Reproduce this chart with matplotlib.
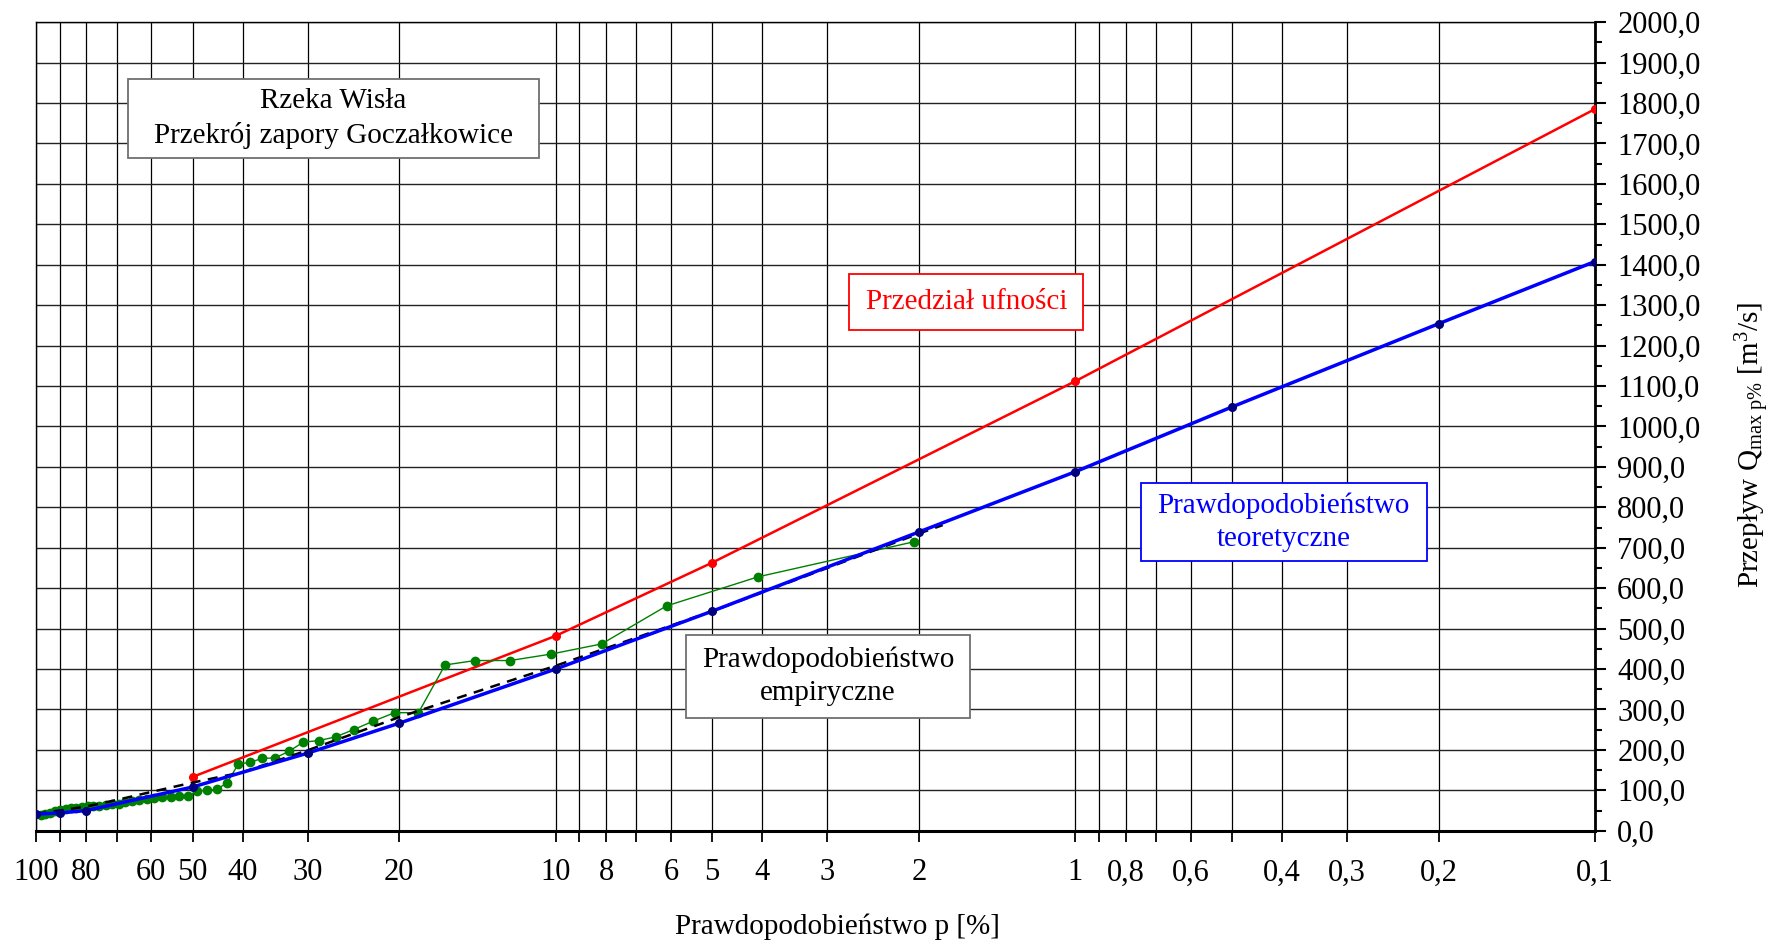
import matplotlib
matplotlib.use('Agg')
import matplotlib.pyplot as plt
from matplotlib.patches import Rectangle
from matplotlib.ticker import FixedLocator, NullFormatter

plt.rcParams['font.family'] = ['Liberation Serif', 'DejaVu Serif']
plt.rcParams['mathtext.fontset'] = 'custom'
plt.rcParams['mathtext.rm'] = 'Liberation Serif'
plt.rcParams['mathtext.it'] = 'Liberation Serif:italic'

# --- data ---
# empirical probability (green)
emp_p = [2.04, 4.08, 6.12, 8.16, 10.2, 12.24, 14.29, 16.33, 18.37, 20.41,
         22.45, 24.49, 26.53, 28.57, 30.61, 32.65, 34.69, 36.73, 38.78, 40.82,
         42.86, 44.9, 46.94, 48.98, 51.02, 53.06, 55.1, 57.14, 59.18, 61.22,
         63.27, 65.31, 67.35, 69.39, 71.43, 73.47, 75.51, 77.55, 79.59, 81.63,
         83.67, 85.71, 87.76, 89.8, 91.84, 93.88, 95.92, 97.96]
emp_q = [715, 628, 556, 462, 437, 421, 421, 410, 292, 292,
         271, 250, 232, 223, 219, 196, 180, 179, 169, 165,
         119, 102, 100, 98, 86, 85, 84, 83, 81, 79,
         77, 74, 71, 67, 65, 63, 62, 61, 60, 59,
         57, 56, 54, 52, 50, 45, 41, 38]

# theoretical probability (blue)
teo_p = [99.9, 90, 80, 50, 30, 20, 10, 5, 2, 1, 0.5, 0.2, 0.1]
teo_q = [41, 44, 50, 108, 192, 266, 400, 543, 739, 888, 1048, 1254, 1408]

# confidence interval (red)
ci_p = [50, 10, 5, 1, 0.1]
ci_q = [133, 482, 663, 1112, 1785]

# trend of empirical points (black dashed)
trend_p = [99.9, 90, 80, 70, 60, 50, 40, 30, 20, 10, 5, 3, 2, 1.8]
trend_q = [42, 50, 60, 76, 96, 119, 145, 199, 281, 408, 543, 650, 735, 756]

grid_p = [100, 90, 80, 70, 60, 50, 40, 30, 20,
          10, 9, 8, 7, 6, 5, 4, 3, 2,
          1, 0.9, 0.8, 0.7, 0.6, 0.5, 0.4, 0.3, 0.2, 0.1]
labeled_p = {100: '100', 80: '80', 60: '60', 50: '50', 40: '40', 30: '30', 20: '20',
             10: '10', 8: '8', 6: '6', 5: '5', 4: '4', 3: '3', 2: '2',
             1: '1', 0.8: '0,8', 0.6: '0,6', 0.4: '0,4', 0.3: '0,3', 0.2: '0,2', 0.1: '0,1'}
y_ticks = list(range(0, 2001, 100))

fig = plt.figure(figsize=(17.69, 9.44), dpi=100)
ax = fig.add_axes([0.0204, 0.120, 0.8812, 0.8565])

ax.set_xscale('log')
ax.set_xlim(100, 0.1)
ax.set_ylim(0, 2000)

# grid
for p in grid_p:
    ax.axvline(p, color='black', lw=0.9, zorder=1)
for v in y_ticks:
    ax.axhline(v, color='#222222', lw=1.0, zorder=1)

ax.plot(ci_p, ci_q, color='red', lw=1.8, marker='o', ms=5.5, mfc='red', mec='red', zorder=4)
ax.plot(emp_p, emp_q, color='green', lw=1.0, marker='o', ms=6, mfc='green', mec='green', zorder=4)
ax.plot(trend_p, trend_q, color='black', lw=1.8, ls=(0, (4, 3)), zorder=5)
ax.plot(teo_p, teo_q, color='blue', lw=2.5, marker='o', ms=5.5, mfc='#000080', mec='#000080', zorder=6)

# x ticks
ax.xaxis.set_major_locator(FixedLocator(grid_p))
ax.xaxis.set_minor_locator(FixedLocator([]))
ax.xaxis.set_minor_formatter(NullFormatter())
ax.set_xticklabels([labeled_p.get(p, '') for p in grid_p])
ax.tick_params(axis='x', direction='out', length=8, width=1.3, pad=12, labelsize=22)
ax.set_xlabel('Prawdopodobieństwo p [%]', fontsize=21)
ax.xaxis.set_label_coords(0.514, -0.119)
ax.xaxis.label.set_va('center')

# y ticks on the right
ax.yaxis.tick_right()
ax.yaxis.set_label_position('right')
ax.set_yticks(y_ticks)
ax.set_yticklabels([f'{v:.1f}'.replace('.', ',') for v in y_ticks])
ax.set_yticks(list(range(50, 2000, 100)), minor=True)
ax.tick_params(axis='y', which='major', direction='out', length=8, width=1.5, pad=8, labelsize=22)
ax.tick_params(axis='y', which='minor', direction='out', length=5, width=1.5)
ax.set_ylabel(r'Przepływ Q$_{\mathrm{max\ p\%}}$ [m$^{3}$/s]', fontsize=21)
ax.yaxis.set_label_coords(1.1010, 0.477)
ax.yaxis.label.set_va('center')

for s in ['left', 'top']:
    ax.spines[s].set_linewidth(1.0)
ax.spines['right'].set_linewidth(2.0)
ax.spines['bottom'].set_linewidth(2.2)

# text boxes
boxes = [
    ((0.0587, 0.832, 0.2639, 0.098), 'Rzeka Wisła\nPrzekrój zapory Goczałkowice', 'black', '#707070'),
    ((0.5218, 0.619, 0.1499, 0.070), 'Przedział ufności', 'red', 'red'),
    ((0.4170, 0.139, 0.1820, 0.1034), 'Prawdopodobieństwo\nempiryczne', 'black', '#707070'),
    ((0.7085, 0.333, 0.1838, 0.097), 'Prawdopodobieństwo\nteoretyczne', 'blue', 'blue'),
]
for (x0, y0, w, h), txt, tc, ec in boxes:
    ax.add_patch(Rectangle((x0, y0), w, h, transform=ax.transAxes, facecolor='white',
                           edgecolor=ec, lw=1.3, zorder=7))
    ax.text(x0 + w / 2, y0 + h / 2, txt, transform=ax.transAxes, ha='center', va='center',
            color=tc, fontsize=21, linespacing=1.35, zorder=8)

fig.savefig('out.png', dpi=100)
